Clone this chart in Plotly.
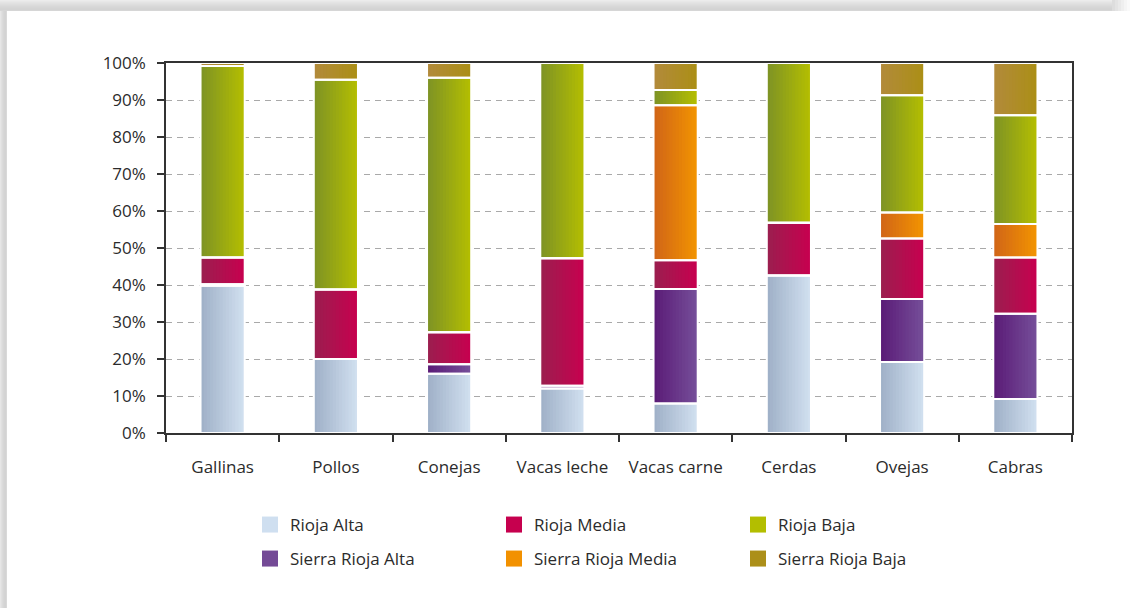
import plotly.graph_objects as go

# Share of livestock by region (percent of each category)
categories = ["Gallinas", "Pollos", "Conejas", "Vacas leche", "Vacas carne", "Cerdas", "Ovejas", "Cabras"]
rioja_alta = [39.8, 20.0, 16.0, 12.0, 8.0, 42.6, 19.2, 9.2]
sierra_rioja_alta = [0.4, 0.0, 2.6, 0.8, 30.9, 0.0, 17.0, 23.0]
rioja_media = [7.2, 18.8, 8.6, 34.4, 7.8, 14.2, 16.4, 15.2]
sierra_rioja_media = [0.0, 0.0, 0.0, 0.0, 41.9, 0.0, 7.0, 9.1]
rioja_baja = [51.8, 56.7, 68.8, 52.8, 4.1, 43.2, 31.7, 29.4]
sierra_rioja_baja = [0.8, 4.5, 4.0, 0.0, 7.3, 0.0, 8.7, 14.1]

y_ticks = list(range(0, 101, 10))
y_tick_labels = [f"{v}%" for v in y_ticks]

# stacking order bottom -> top: (name, values, gradient left, gradient right, legend colour, legend id, rank)
series = [
    ("Rioja Alta", rioja_alta, (158, 175, 198), (210, 225, 241), "#cfdff0", "legend", 1),
    ("Sierra Rioja Alta", sierra_rioja_alta, (90, 26, 118), (118, 80, 154), "#744a96", "legend2", 4),
    ("Rioja Media", rioja_media, (154, 31, 79), (200, 0, 79), "#c6004e", "legend", 2),
    ("Sierra Rioja Media", sierra_rioja_media, (208, 100, 24), (243, 149, 0), "#f29100", "legend2", 5),
    ("Rioja Baja", rioja_baja, (125, 146, 38), (181, 191, 0), "#b3be00", "legend", 3),
    ("Sierra Rioja Baja", sierra_rioja_baja, (178, 138, 60), (171, 143, 21), "#ac8f19", "legend2", 6),
]

BAR_W = 0.39
N_STRIPS = 14
strip_w = BAR_W / N_STRIPS

# plot-area geometry in pixels (for the decorative panel shadow)
W, H = 1136, 608
ML, MR, MT, MB = 166, 64, 63, 175
PW, PH = W - ML - MR, H - MT - MB


def fx(px):
    return (px - ML) / PW


def fy(py):
    return (H - MB - py) / PH


def mix(a, b, t):
    return "rgb(%d,%d,%d)" % tuple(round(a[i] + (b[i] - a[i]) * t) for i in range(3))


fig = go.Figure()

base = [0.0] * len(categories)
bases = []
for name, vals, c0, c1, lc, lg, rk in series:
    bases.append(list(base))
    for k in range(N_STRIPS):
        t = (k + 0.5) / N_STRIPS
        # each strip overlaps the next one so no seams show between them
        w = strip_w if k == N_STRIPS - 1 else strip_w * 2
        fig.add_trace(go.Bar(
            x=categories, y=vals, base=list(base),
            offset=-BAR_W / 2 + k * strip_w, width=w,
            marker=dict(color=mix(c0, c1, t), line=dict(width=0)),
            showlegend=False, hoverinfo="skip",
        ))
    base = [b + v for b, v in zip(base, vals)]

# white separators between stacked segments
for (name, vals, c0, c1, lc, lg, rk), b in zip(series, bases):
    fig.add_trace(go.Bar(
        x=categories, y=vals, base=b, offset=-BAR_W / 2, width=BAR_W,
        marker=dict(color="rgba(0,0,0,0)", line=dict(color="white", width=2)),
        showlegend=False, name=name,
    ))

# legend entries
for name, vals, c0, c1, lc, lg, rk in series:
    fig.add_trace(go.Scatter(
        x=[None], y=[None], mode="markers", name=name, legend=lg, legendrank=rk,
        marker=dict(symbol="square", size=16, color=lc, line=dict(width=0)),
    ))

# panel drop shadow along the top and left edges
shapes = []
greys = ["#ececec", "#e8e8e8", "#e4e4e4", "#e1e1e1", "#dedede", "#dbdbdb",
         "#d8d8d8", "#d6d6d6", "#d4d4d4", "#d3d3d3", "#d6d6d6"]
for i, g in enumerate(greys):
    shapes.append(dict(type="rect", xref="paper", yref="paper", layer="below",
                       x0=fx(0), x1=fx(1112), y0=fy(i), y1=fy(i + 1),
                       fillcolor=g, line=dict(width=0)))
for i, g in enumerate(["#e6e6e6", "#e0e0e0", "#dbdbdb", "#d7d7d7", "#d4d4d4", "#d3d3d3", "#d9d9d9"]):
    shapes.append(dict(type="rect", xref="paper", yref="paper", layer="below",
                       x0=fx(i), x1=fx(i + 1), y0=fy(11), y1=fy(H),
                       fillcolor=g, line=dict(width=0)))
for i, g in enumerate(["#dddddd", "#e3e3e3", "#e9e9e9", "#efefef", "#f5f5f5", "#fafafa"]):
    shapes.append(dict(type="rect", xref="paper", yref="paper", layer="below",
                       x0=fx(1112 + 3 * i), x1=fx(1115 + 3 * i), y0=fy(0), y1=fy(11),
                       fillcolor=g, line=dict(width=0)))

font = dict(family="Open Sans, Noto Sans, sans-serif", size=17, color="#2b2b2b")

fig.update_layout(
    width=W, height=H,
    margin=dict(l=ML, r=MR, t=MT, b=MB),
    paper_bgcolor="white", plot_bgcolor="white",
    barmode="overlay",
    font=font,
    shapes=shapes,
    legend=dict(orientation="h", x=fx(250), xanchor="left", y=fy(525), yanchor="middle",
                entrywidth=199, entrywidthmode="pixels", font=font,
                bgcolor="rgba(0,0,0,0)", itemclick=False),
    legend2=dict(orientation="h", x=fx(250), xanchor="left", y=fy(559), yanchor="middle",
                 entrywidth=199, entrywidthmode="pixels", font=font,
                 bgcolor="rgba(0,0,0,0)", itemclick=False),
    xaxis=dict(type="category", categoryorder="array", categoryarray=categories,
               range=[-0.5, len(categories) - 0.5], tickson="boundaries",
               ticks="outside", ticklen=7, tickwidth=1.5, tickcolor="#333",
               showline=True, linecolor="#333", linewidth=1.5, mirror=True,
               showgrid=False, ticklabelstandoff=18, tickfont=font),
    yaxis=dict(range=[0, 100], tickmode="array", tickvals=y_ticks, ticktext=y_tick_labels,
               ticks="outside", ticklen=7, tickwidth=1.5, tickcolor="#333",
               showline=True, linecolor="#333", linewidth=1.5, mirror=True,
               showgrid=True, gridcolor="#a9a9a9", gridwidth=1, griddash="6px,5px",
               zeroline=False, ticklabelstandoff=8, tickfont=font),
)

fig.write_html("out.html")
